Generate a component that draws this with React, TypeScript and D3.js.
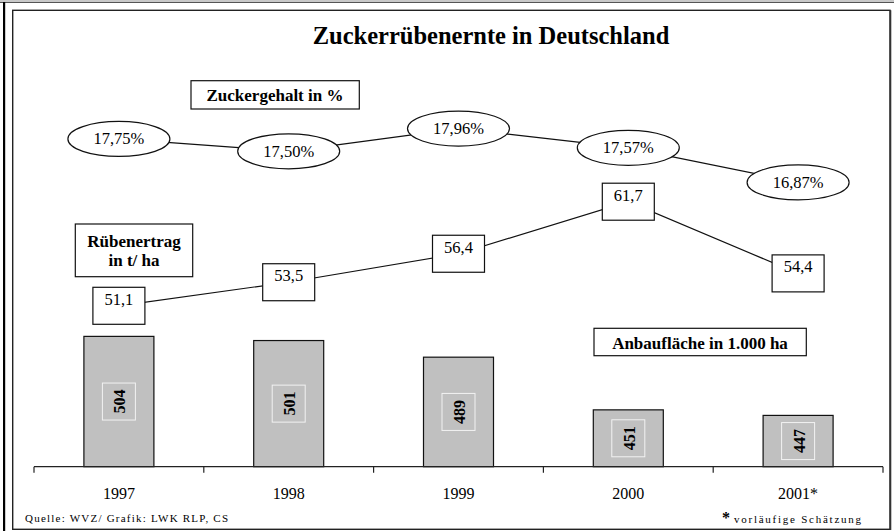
import React from "react";
import * as d3 from "d3";

const years = ["1997", "1998", "1999", "2000", "2001*"];
const anbauflaeche = [504, 501, 489, 451, 447];
const ruebenertrag = [51.1, 53.5, 56.4, 61.7, 54.4];
const zuckergehalt = [17.75, 17.5, 17.96, 17.57, 16.87];

const W = 894;
const H = 531;
const FONT = "'Liberation Serif', 'Times New Roman', Times, serif";

const fmt = (v: number, d: number) => v.toFixed(d).replace(".", ",");

export default function App() {
  const x = d3.scaleBand<string>().domain(years).range([34, 883]).padding(0);
  const cx = (d: string) => (x(d) as number) + x.bandwidth() / 2;
  const barW = 70;
  const yBar = d3.scaleLinear().domain([410, 520]).range([466.7, 314.2]);
  const yErtrag = d3.scaleLinear().domain([50, 65]).range([316.6, 169.3]);
  const yZucker = d3.scaleLinear().domain([16.5, 18]).range([200.7, 126.6]);

  const line = d3.line<[number, number]>().x((p) => p[0]).y((p) => p[1]);
  const zPts: [number, number][] = years.map((y, i) => [cx(y), yZucker(zuckergehalt[i])]);
  const ePts: [number, number][] = years.map((y, i) => [cx(y), yErtrag(ruebenertrag[i])]);

  const ticks = [...years.map((d) => x(d) as number), x.range()[1]];
  const axisY = yBar.range()[0];

  return (
    <svg
      width={W}
      height={H}
      style={{ position: "fixed", left: 0, top: 0, background: "#fff", fontFamily: FONT }}
    >
      {/* outer frame */}
      <rect x={0} y={0} width={W} height={2} fill="#c8c8c8" />
      <line x1={0} y1={2.5} x2={W} y2={2.5} stroke="#555" strokeWidth={1} />
      <rect x={3} y={2} width={2.2} height={H - 2} fill="#000" />
      <rect x={12.7} y={10.3} width={877.3} height={519} fill="#fff" stroke="#222" strokeWidth={1.4} />
      <line x1={890.5} y1={10.3} x2={890.5} y2={530} stroke="#333" strokeWidth={1.6} />

      {/* title */}
      <text x={491} y={44} textAnchor="middle" fontWeight="bold" fontSize={24.5}>
        Zuckerrübenernte in Deutschland
      </text>

      {/* bars */}
      {years.map((y, i) => {
        const top = yBar(anbauflaeche[i]);
        const mid = (top + axisY) / 2;
        return (
          <g key={y}>
            <rect
              x={cx(y) - barW / 2}
              y={top}
              width={barW}
              height={axisY - top}
              fill="#c0c0c0"
              stroke="#111"
              strokeWidth={1.2}
            />
            <rect x={cx(y) - 16.5} y={mid - 18.5} width={33} height={37} fill="none" stroke="#f2f2f2" strokeWidth={1} />
            <text
              transform={`translate(${cx(y) + 1},${mid}) rotate(-90)`}
              textAnchor="middle"
              dominantBaseline="central"
              fontWeight="bold"
              fontSize={16}
            >
              {anbauflaeche[i]}
            </text>
          </g>
        );
      })}

      {/* axis */}
      <line x1={x.range()[0]} y1={axisY} x2={x.range()[1]} y2={axisY} stroke="#222" strokeWidth={1.2} />
      {ticks.map((t, i) => (
        <line key={i} x1={t} y1={axisY} x2={t} y2={axisY + 6} stroke="#222" strokeWidth={1.2} />
      ))}
      {years.map((y) => (
        <text key={y} x={cx(y)} y={498.5} textAnchor="middle" fontSize={16}>
          {y}
        </text>
      ))}

      {/* Zuckergehalt line */}
      <path d={line(zPts) as string} fill="none" stroke="#111" strokeWidth={1.2} />
      {zPts.map((p, i) => (
        <g key={i}>
          <ellipse cx={p[0]} cy={p[1]} rx={51} ry={17.5} fill="#fff" stroke="#111" strokeWidth={1.2} />
          <text x={p[0]} y={p[1] + 5.5} textAnchor="middle" fontSize={16.5}>
            {fmt(zuckergehalt[i], 2)}%
          </text>
        </g>
      ))}

      {/* Rübenertrag line */}
      <path d={line(ePts) as string} fill="none" stroke="#111" strokeWidth={1.2} />
      {ePts.map((p, i) => (
        <g key={i}>
          <rect x={p[0] - 26} y={p[1] - 18.5} width={52} height={37} fill="#fff" stroke="#111" strokeWidth={1.2} />
          <text x={p[0]} y={p[1] - 1} textAnchor="middle" fontSize={16.5}>
            {fmt(ruebenertrag[i], 1)}
          </text>
        </g>
      ))}

      {/* legend boxes */}
      <rect x={191} y={80.7} width={168.3} height={28.3} fill="#fff" stroke="#111" strokeWidth={1.2} />
      <text x={275} y={100.7} textAnchor="middle" fontWeight="bold" fontSize={17}>
        Zuckergehalt in %
      </text>

      <rect x={75.3} y={224} width={117.4} height={52.7} fill="#fff" stroke="#111" strokeWidth={1.2} />
      <text x={134} y={246.7} textAnchor="middle" fontWeight="bold" fontSize={17}>
        Rübenertrag
      </text>
      <text x={134} y={266} textAnchor="middle" fontWeight="bold" fontSize={17}>
        in t/ ha
      </text>

      <rect x={594} y={328.3} width={212.3} height={27.4} fill="#fff" stroke="#111" strokeWidth={1.2} />
      <text x={700} y={349} textAnchor="middle" fontWeight="bold" fontSize={17}>
        Anbaufläche in 1.000 ha
      </text>

      {/* footnotes */}
      <text x={25} y={521.7} fontSize={11} textLength={203} lengthAdjust="spacing">
        Quelle: WVZ/ Grafik: LWK RLP, CS
      </text>
      <text x={722} y={523} fontSize={16} fontWeight="bold">
        *
      </text>
      <text x={734} y={522.7} fontSize={11} textLength={127} lengthAdjust="spacing">
        vorläufige Schätzung
      </text>
    </svg>
  );
}
